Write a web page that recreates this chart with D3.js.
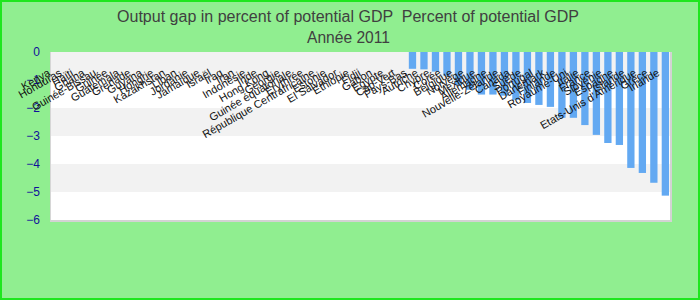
<!DOCTYPE html>
<html>
<head>
<meta charset="utf-8">
<script src="https://cdn.jsdelivr.net/npm/d3@7"></script>
<style>
  body { margin: 0; background: #fff; }
  text { font-family: "Liberation Sans", Arial, sans-serif; white-space: pre; }
</style>
</head>
<body>
<div class="chart"></div>
<script>
const titleLines = ["Output gap in percent of potential GDP  Percent of potential GDP", "Année 2011"];

const countries = [
  "Kenya", "Honduras", "Haïti", "Ghana", "Guinée-Bissau", "Guinée", "Guatemala", "Grenade",
  "Guyana", "Hongrie", "Kazakhstan", "Liban", "Jordanie", "Jamaïque", "Israël", "Iraq",
  "Iran", "Indonésie", "Inde", "Hong Kong", "Géorgie", "Guinée équatoriale", "Érythrée",
  "République Centrafricaine", "Estonie", "El Salvador", "Éthiopie", "Fidji", "Gabon",
  "Égypte", "Cap-Vert", "Pays-Bas", "Autriche", "Chypre", "Corée", "Belgique", "Norvège",
  "Mexique", "Allemagne", "Nouvelle-Zélande", "Canada", "Suède", "Portugal", "Danemark",
  "Finlande", "Royaume-Uni", "Italie", "France", "Slovénie", "Espagne", "Islande",
  "Etats-Unis d'Amérique", "Grèce", "Irlande"
];

// percent of potential GDP; 0 where no bar is visible
const gap = [
  0, 0, 0, 0, 0, 0, 0, 0,
  0, 0, 0, 0, 0, 0, 0, 0,
  0, 0, 0, 0, 0, 0, 0,
  0, 0, 0, 0, 0, 0,
  0, 0, -0.60, -0.62, -0.70, -0.85, -1.18, -1.35,
  -1.52, -1.52, -1.56, -1.71, -1.82, -1.89, -1.96,
  -2.35, -2.35, -2.61, -2.96, -3.25, -3.32,
  -4.14, -4.32, -4.67, -5.13
];

const yTicks = [0, -1, -2, -3, -4, -5, -6];

(() => {
  const width = 700;
  const height = 300;
  const plot = { left: 50, right: 670, top: 52, bottom: 220 };

  const svg = d3
    .select(".chart")
    .append("svg")
    .attr("width", width)
    .attr("height", height);

  svg
    .append("rect")
    .attr("x", 1)
    .attr("y", 1)
    .attr("width", width - 2)
    .attr("height", height - 2)
    .style("fill", "#90ee90")
    .style("stroke", "#1ee61e")
    .style("stroke-width", 2);

  const x = d3
    .scaleBand()
    .domain(countries)
    .range([51, 670.5])
    .paddingInner(0.365)
    .paddingOuter(0.13);

  const y = d3.scaleLinear().domain([-6, 0]).range([plot.bottom, plot.top]);

  // plot background with alternating bands
  svg
    .append("rect")
    .attr("x", plot.left)
    .attr("y", plot.top)
    .attr("width", plot.right - plot.left)
    .attr("height", plot.bottom - plot.top)
    .style("fill", "#fff");

  svg
    .append("g")
    .selectAll("rect")
    .data(yTicks.slice(0, -1).filter((t, i) => i % 2 === 0))
    .enter()
    .append("rect")
    .attr("x", plot.left)
    .attr("y", (d) => y(d))
    .attr("width", plot.right - plot.left)
    .attr("height", (d) => y(d - 1) - y(d))
    .style("fill", "#f2f2f2");

  // frame: thin left, heavier right/bottom
  svg
    .append("path")
    .attr("d", `M${plot.left + 0.5},${plot.top}V${plot.bottom}`)
    .style("stroke", "#d6d6d6")
    .style("fill", "none");
  svg
    .append("path")
    .attr("d", `M${plot.left},${plot.bottom + 1}H${plot.right + 1}V${plot.top}`)
    .style("stroke", "#d3d3d3")
    .style("stroke-width", 2)
    .style("fill", "none");

  // bars
  svg
    .append("g")
    .selectAll("rect")
    .data(countries.map((c, i) => ({ country: c, value: gap[i] })))
    .enter()
    .append("rect")
    .attr("x", (d) => x(d.country))
    .attr("y", (d) => y(Math.max(0, d.value)))
    .attr("width", x.bandwidth())
    .attr("height", (d) => Math.abs(y(d.value) - y(0)))
    .style("fill", "#63a9f2");

  // y axis labels
  const yAxis = svg
    .append("g")
    .attr("transform", `translate(${plot.left - 10},0)`)
    .call(d3.axisLeft(y).tickValues(yTicks).tickSize(0).tickPadding(0).tickFormat(d3.format("d")));
  yAxis.select(".domain").remove();
  yAxis
    .selectAll("text")
    .style("font-family", '"Liberation Sans", Arial, sans-serif')
    .style("font-size", "12px")
    .style("fill", "#10109a");

  // category labels, rotated, hanging from the zero line
  svg
    .append("g")
    .selectAll("text")
    .data(countries)
    .enter()
    .append("text")
    .attr(
      "transform",
      (d) => `translate(${x(d) + x.bandwidth() / 2 - 5},${plot.top + 23}) rotate(-30)`
    )
    .attr("text-anchor", "end")
    .style("font-size", "11px")
    .style("fill", "#111")
    .text((d) => d);

  // title
  svg
    .append("text")
    .attr("x", 348)
    .attr("y", 22)
    .attr("text-anchor", "middle")
    .attr("textLength", 462)
    .attr("lengthAdjust", "spacingAndGlyphs")
    .style("font-size", "16px")
    .style("fill", "#404040")
    .text(titleLines[0]);

  svg
    .append("text")
    .attr("x", 348.5)
    .attr("y", 43)
    .attr("text-anchor", "middle")
    .attr("textLength", 83)
    .attr("lengthAdjust", "spacingAndGlyphs")
    .style("font-size", "16px")
    .style("fill", "#404040")
    .text(titleLines[1]);
})();
</script>
</body>
</html>
